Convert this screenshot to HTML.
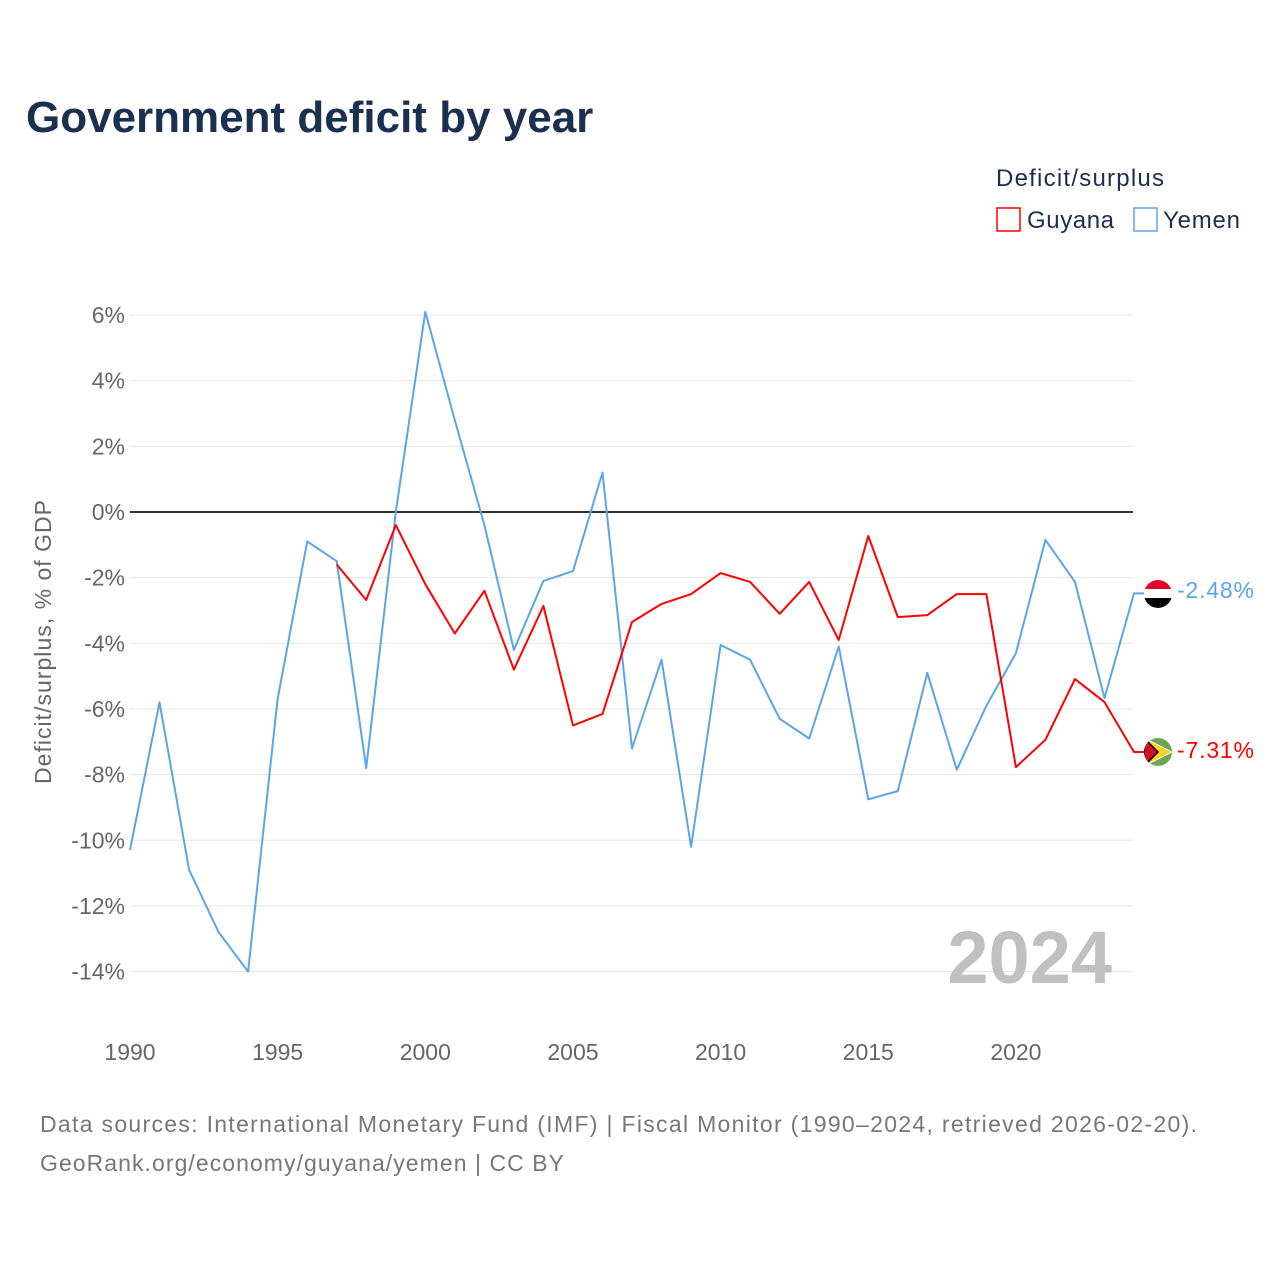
<!DOCTYPE html>
<html><head><meta charset="utf-8"><style>
body{margin:0;background:#fff;font-family:"Liberation Sans",sans-serif;}
</style></head><body>
<svg width="1280" height="1280" xmlns="http://www.w3.org/2000/svg" font-family="Liberation Sans, sans-serif">
<text x="26" y="132" font-size="44" font-weight="bold" fill="#1b2f4e">Government deficit by year</text>
<text x="996" y="186" font-size="24" fill="#1b2f4e" textLength="168">Deficit/surplus</text>
<g><rect x="997" y="208" width="23" height="23" fill="none" stroke="#ff0000" stroke-width="1.5"/><text x="1027" y="228" font-size="24" fill="#1b2f4e" textLength="87">Guyana</text></g>
<g><rect x="1134" y="208" width="23" height="23" fill="none" stroke="#5aa5ea" stroke-width="1.5"/><text x="1163" y="228" font-size="24" fill="#1b2f4e" textLength="77">Yemen</text></g>
<g id="grid"></g>
<text x="0" y="0" transform="translate(51,642) rotate(-90)" text-anchor="middle" font-size="23" fill="#666" textLength="284">Deficit/surplus, % of GDP</text>
<text x="1112" y="983" text-anchor="end" font-size="74" font-weight="bold" fill="#c0c0c0">2024</text>
<g id="series"></g>
<g>
<clipPath id="cy"><circle cx="1158" cy="594" r="14"/></clipPath>
<g clip-path="url(#cy)"><rect x="1144" y="580" width="28" height="10" fill="#e4002b"/><rect x="1144" y="589" width="28" height="10" fill="#fff"/><rect x="1144" y="598" width="28" height="10" fill="#000"/></g></g>
<g>
<clipPath id="cg"><circle cx="1158" cy="752" r="14"/></clipPath>
<g clip-path="url(#cg)"><rect x="1144" y="738" width="28" height="28" fill="#6aa84f"/><polygon points="1144,738 1172,752 1144,766" fill="#fcd116" stroke="#fff" stroke-width="1"/><polygon points="1144,738 1158,752 1144,766" fill="#ce1126" stroke="#000" stroke-width="1.5"/></g></g>
<text x="1177" y="598" font-size="23" fill="#5aa5ea" textLength="77">-2.48%</text>
<text x="1177" y="758" font-size="23" fill="#ff0000" textLength="77">-7.31%</text>
<text x="40" y="1132" font-size="23" fill="#777" textLength="1157">Data sources: International Monetary Fund (IMF) | Fiscal Monitor (1990–2024, retrieved 2026-02-20).</text>
<text x="40" y="1171" font-size="23" fill="#777" textLength="524">GeoRank.org/economy/guyana/yemen | CC BY</text>
</svg>
<script>
const years=[1990,1991,1992,1993,1994,1995,1996,1997,1998,1999,2000,2001,2002,2003,2004,2005,2006,2007,2008,2009,2010,2011,2012,2013,2014,2015,2016,2017,2018,2019,2020,2021,2022,2023,2024];
const yemen=[-10.3,-5.8,-10.9,-12.8,-14.0,-5.7,-0.9,-1.5,-7.8,0.0,6.1,2.8,-0.4,-4.2,-2.1,-1.8,1.2,-7.2,-4.5,-10.2,-4.05,-4.5,-6.3,-6.9,-4.1,-8.75,-8.5,-4.9,-7.85,-5.9,-4.3,-0.85,-2.13,-5.67,-2.48];
const guyanaYears=[1997,1998,1999,2000,2001,2002,2003,2004,2005,2006,2007,2008,2009,2010,2011,2012,2013,2014,2015,2016,2017,2018,2019,2020,2021,2022,2023,2024];
const guyana=[-1.6,-2.68,-0.4,-2.2,-3.7,-2.4,-4.8,-2.86,-6.5,-6.15,-3.35,-2.8,-2.5,-1.86,-2.13,-3.1,-2.13,-3.9,-0.73,-3.2,-3.14,-2.5,-2.5,-7.77,-6.94,-5.09,-5.79,-7.31];
const yTicks=[6,4,2,0,-2,-4,-6,-8,-10,-12,-14];
const xTicks=[1990,1995,2000,2005,2010,2015,2020];
const NS='http://www.w3.org/2000/svg';
const X=y=>130+(y-1990)*29.53;
const Y=v=>512-v*32.83;
const grid=document.getElementById('grid');
function mk(t,a,p){const e=document.createElementNS(NS,t);for(const k in a)e.setAttribute(k,a[k]);p.appendChild(e);return e;}
yTicks.forEach(v=>{
 const l=mk('line',{x1:130,x2:1133,y1:Y(v),y2:Y(v),stroke:v===0?'#333':'#e6e6e6','stroke-width':v===0?2:1},grid);
 
 
 const t=mk('text',{x:125,y:Y(v)+8,'text-anchor':'end','font-size':23,fill:'#666'},grid);
 t.textContent=v+'%';
 
 
});
xTicks.forEach(v=>{
 const t=mk('text',{x:X(v),y:1060,'text-anchor':'middle','font-size':23,fill:'#666'},grid);
 t.textContent=v;
 
 
});
const s=document.getElementById('series');
function line(xs,vs,c,name){
 let d=xs.map((y,i)=>(i?'L':'M')+X(y).toFixed(1)+','+Y(vs[i]).toFixed(1)).join(' ');
 d+=' L1144,'+Y(vs[vs.length-1]).toFixed(1);
 const p=mk('path',{d:d,fill:'none',stroke:c,'stroke-width':2,'stroke-linejoin':'round'},s);
 
 
}
line(years,yemen,'#5aa5ea','line-yemen');
line(guyanaYears,guyana,'#ff0000','line-guyana');
</script>
</body></html>
